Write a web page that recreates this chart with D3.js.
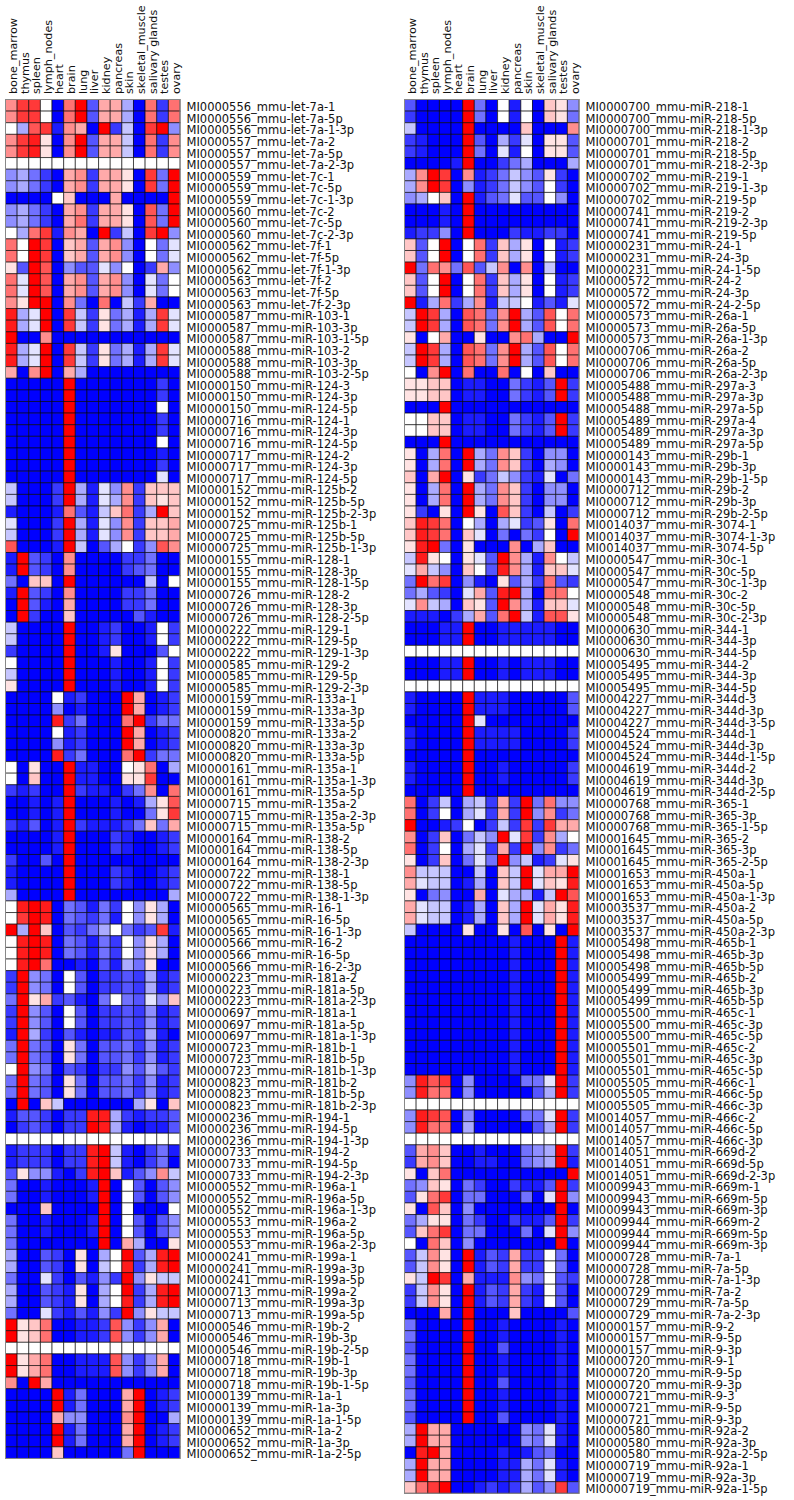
<!DOCTYPE html>
<html>
<head>
<meta charset="utf-8">
<script src="https://cdnjs.cloudflare.com/ajax/libs/d3/7.8.5/d3.min.js"></script>
<style>
  html, body { margin: 0; padding: 0; background: #fff; }
  svg { display: block; }
  text { font-family: "DejaVu Sans", sans-serif; fill: #111; }
</style>
</head>
<body>
<svg id="chart" width="794" height="1500"></svg>
<script>
var tissues = ["bone_marrow", "thymus", "spleen", "lymph_nodes", "heart", "brain", "lung", "liver",
  "kidney", "pancreas", "skin", "skeletal_muscle", "salivary glands", "testes", "ovary"];

// values run from -9 (full blue) through 0 (white) to 9 (full red)
var leftNames = [
  "MI0000556_mmu-let-7a-1", "MI0000556_mmu-let-7a-5p", "MI0000556_mmu-let-7a-1-3p",
  "MI0000557_mmu-let-7a-2", "MI0000557_mmu-let-7a-5p", "MI0000557_mmu-let-7a-2-3p",
  "MI0000559_mmu-let-7c-1", "MI0000559_mmu-let-7c-5p", "MI0000559_mmu-let-7c-1-3p",
  "MI0000560_mmu-let-7c-2", "MI0000560_mmu-let-7c-5p", "MI0000560_mmu-let-7c-2-3p",
  "MI0000562_mmu-let-7f-1", "MI0000562_mmu-let-7f-5p", "MI0000562_mmu-let-7f-1-3p",
  "MI0000563_mmu-let-7f-2", "MI0000563_mmu-let-7f-5p", "MI0000563_mmu-let-7f-2-3p",
  "MI0000587_mmu-miR-103-1", "MI0000587_mmu-miR-103-3p", "MI0000587_mmu-miR-103-1-5p",
  "MI0000588_mmu-miR-103-2", "MI0000588_mmu-miR-103-3p", "MI0000588_mmu-miR-103-2-5p",
  "MI0000150_mmu-miR-124-3", "MI0000150_mmu-miR-124-3p", "MI0000150_mmu-miR-124-5p",
  "MI0000716_mmu-miR-124-1", "MI0000716_mmu-miR-124-3p", "MI0000716_mmu-miR-124-5p",
  "MI0000717_mmu-miR-124-2", "MI0000717_mmu-miR-124-3p", "MI0000717_mmu-miR-124-5p",
  "MI0000152_mmu-miR-125b-2", "MI0000152_mmu-miR-125b-5p", "MI0000152_mmu-miR-125b-2-3p",
  "MI0000725_mmu-miR-125b-1", "MI0000725_mmu-miR-125b-5p", "MI0000725_mmu-miR-125b-1-3p",
  "MI0000155_mmu-miR-128-1", "MI0000155_mmu-miR-128-3p", "MI0000155_mmu-miR-128-1-5p",
  "MI0000726_mmu-miR-128-2", "MI0000726_mmu-miR-128-3p", "MI0000726_mmu-miR-128-2-5p",
  "MI0000222_mmu-miR-129-1", "MI0000222_mmu-miR-129-5p", "MI0000222_mmu-miR-129-1-3p",
  "MI0000585_mmu-miR-129-2", "MI0000585_mmu-miR-129-5p", "MI0000585_mmu-miR-129-2-3p",
  "MI0000159_mmu-miR-133a-1", "MI0000159_mmu-miR-133a-3p", "MI0000159_mmu-miR-133a-5p",
  "MI0000820_mmu-miR-133a-2", "MI0000820_mmu-miR-133a-3p", "MI0000820_mmu-miR-133a-5p",
  "MI0000161_mmu-miR-135a-1", "MI0000161_mmu-miR-135a-1-3p", "MI0000161_mmu-miR-135a-5p",
  "MI0000715_mmu-miR-135a-2", "MI0000715_mmu-miR-135a-2-3p", "MI0000715_mmu-miR-135a-5p",
  "MI0000164_mmu-miR-138-2", "MI0000164_mmu-miR-138-5p", "MI0000164_mmu-miR-138-2-3p",
  "MI0000722_mmu-miR-138-1", "MI0000722_mmu-miR-138-5p", "MI0000722_mmu-miR-138-1-3p",
  "MI0000565_mmu-miR-16-1", "MI0000565_mmu-miR-16-5p", "MI0000565_mmu-miR-16-1-3p",
  "MI0000566_mmu-miR-16-2", "MI0000566_mmu-miR-16-5p", "MI0000566_mmu-miR-16-2-3p",
  "MI0000223_mmu-miR-181a-2", "MI0000223_mmu-miR-181a-5p", "MI0000223_mmu-miR-181a-2-3p",
  "MI0000697_mmu-miR-181a-1", "MI0000697_mmu-miR-181a-5p", "MI0000697_mmu-miR-181a-1-3p",
  "MI0000723_mmu-miR-181b-1", "MI0000723_mmu-miR-181b-5p", "MI0000723_mmu-miR-181b-1-3p",
  "MI0000823_mmu-miR-181b-2", "MI0000823_mmu-miR-181b-5p", "MI0000823_mmu-miR-181b-2-3p",
  "MI0000236_mmu-miR-194-1", "MI0000236_mmu-miR-194-5p", "MI0000236_mmu-miR-194-1-3p",
  "MI0000733_mmu-miR-194-2", "MI0000733_mmu-miR-194-5p", "MI0000733_mmu-miR-194-2-3p",
  "MI0000552_mmu-miR-196a-1", "MI0000552_mmu-miR-196a-5p", "MI0000552_mmu-miR-196a-1-3p",
  "MI0000553_mmu-miR-196a-2", "MI0000553_mmu-miR-196a-5p", "MI0000553_mmu-miR-196a-2-3p",
  "MI0000241_mmu-miR-199a-1", "MI0000241_mmu-miR-199a-3p", "MI0000241_mmu-miR-199a-5p",
  "MI0000713_mmu-miR-199a-2", "MI0000713_mmu-miR-199a-3p", "MI0000713_mmu-miR-199a-5p",
  "MI0000546_mmu-miR-19b-2", "MI0000546_mmu-miR-19b-3p", "MI0000546_mmu-miR-19b-2-5p",
  "MI0000718_mmu-miR-19b-1", "MI0000718_mmu-miR-19b-3p", "MI0000718_mmu-miR-19b-1-5p",
  "MI0000139_mmu-miR-1a-1", "MI0000139_mmu-miR-1a-3p", "MI0000139_mmu-miR-1a-1-5p",
  "MI0000652_mmu-miR-1a-2", "MI0000652_mmu-miR-1a-3p", "MI0000652_mmu-miR-1a-2-5p"
];

var rightNames = [
  "MI0000700_mmu-miR-218-1", "MI0000700_mmu-miR-218-5p", "MI0000700_mmu-miR-218-1-3p",
  "MI0000701_mmu-miR-218-2", "MI0000701_mmu-miR-218-5p", "MI0000701_mmu-miR-218-2-3p",
  "MI0000702_mmu-miR-219-1", "MI0000702_mmu-miR-219-1-3p", "MI0000702_mmu-miR-219-5p",
  "MI0000741_mmu-miR-219-2", "MI0000741_mmu-miR-219-2-3p", "MI0000741_mmu-miR-219-5p",
  "MI0000231_mmu-miR-24-1", "MI0000231_mmu-miR-24-3p", "MI0000231_mmu-miR-24-1-5p",
  "MI0000572_mmu-miR-24-2", "MI0000572_mmu-miR-24-3p", "MI0000572_mmu-miR-24-2-5p",
  "MI0000573_mmu-miR-26a-1", "MI0000573_mmu-miR-26a-5p", "MI0000573_mmu-miR-26a-1-3p",
  "MI0000706_mmu-miR-26a-2", "MI0000706_mmu-miR-26a-5p", "MI0000706_mmu-miR-26a-2-3p",
  "MI0005488_mmu-miR-297a-3", "MI0005488_mmu-miR-297a-3p", "MI0005488_mmu-miR-297a-5p",
  "MI0005489_mmu-miR-297a-4", "MI0005489_mmu-miR-297a-3p", "MI0005489_mmu-miR-297a-5p",
  "MI0000143_mmu-miR-29b-1", "MI0000143_mmu-miR-29b-3p", "MI0000143_mmu-miR-29b-1-5p",
  "MI0000712_mmu-miR-29b-2", "MI0000712_mmu-miR-29b-3p", "MI0000712_mmu-miR-29b-2-5p",
  "MI0014037_mmu-miR-3074-1", "MI0014037_mmu-miR-3074-1-3p", "MI0014037_mmu-miR-3074-5p",
  "MI0000547_mmu-miR-30c-1", "MI0000547_mmu-miR-30c-5p", "MI0000547_mmu-miR-30c-1-3p",
  "MI0000548_mmu-miR-30c-2", "MI0000548_mmu-miR-30c-5p", "MI0000548_mmu-miR-30c-2-3p",
  "MI0000630_mmu-miR-344-1", "MI0000630_mmu-miR-344-3p", "MI0000630_mmu-miR-344-5p",
  "MI0005495_mmu-miR-344-2", "MI0005495_mmu-miR-344-3p", "MI0005495_mmu-miR-344-5p",
  "MI0004227_mmu-miR-344d-3", "MI0004227_mmu-miR-344d-3p", "MI0004227_mmu-miR-344d-3-5p",
  "MI0004524_mmu-miR-344d-1", "MI0004524_mmu-miR-344d-3p", "MI0004524_mmu-miR-344d-1-5p",
  "MI0004619_mmu-miR-344d-2", "MI0004619_mmu-miR-344d-3p", "MI0004619_mmu-miR-344d-2-5p",
  "MI0000768_mmu-miR-365-1", "MI0000768_mmu-miR-365-3p", "MI0000768_mmu-miR-365-1-5p",
  "MI0001645_mmu-miR-365-2", "MI0001645_mmu-miR-365-3p", "MI0001645_mmu-miR-365-2-5p",
  "MI0001653_mmu-miR-450a-1", "MI0001653_mmu-miR-450a-5p", "MI0001653_mmu-miR-450a-1-3p",
  "MI0003537_mmu-miR-450a-2", "MI0003537_mmu-miR-450a-5p", "MI0003537_mmu-miR-450a-2-3p",
  "MI0005498_mmu-miR-465b-1", "MI0005498_mmu-miR-465b-3p", "MI0005498_mmu-miR-465b-5p",
  "MI0005499_mmu-miR-465b-2", "MI0005499_mmu-miR-465b-3p", "MI0005499_mmu-miR-465b-5p",
  "MI0005500_mmu-miR-465c-1", "MI0005500_mmu-miR-465c-3p", "MI0005500_mmu-miR-465c-5p",
  "MI0005501_mmu-miR-465c-2", "MI0005501_mmu-miR-465c-3p", "MI0005501_mmu-miR-465c-5p",
  "MI0005505_mmu-miR-466c-1", "MI0005505_mmu-miR-466c-5p", "MI0005505_mmu-miR-466c-3p",
  "MI0014057_mmu-miR-466c-2", "MI0014057_mmu-miR-466c-5p", "MI0014057_mmu-miR-466c-3p",
  "MI0014051_mmu-miR-669d-2", "MI0014051_mmu-miR-669d-5p", "MI0014051_mmu-miR-669d-2-3p",
  "MI0009943_mmu-miR-669m-1", "MI0009943_mmu-miR-669m-5p", "MI0009943_mmu-miR-669m-3p",
  "MI0009944_mmu-miR-669m-2", "MI0009944_mmu-miR-669m-5p", "MI0009944_mmu-miR-669m-3p",
  "MI0000728_mmu-miR-7a-1", "MI0000728_mmu-miR-7a-5p", "MI0000728_mmu-miR-7a-1-3p",
  "MI0000729_mmu-miR-7a-2", "MI0000729_mmu-miR-7a-5p", "MI0000729_mmu-miR-7a-2-3p",
  "MI0000157_mmu-miR-9-2", "MI0000157_mmu-miR-9-5p", "MI0000157_mmu-miR-9-3p",
  "MI0000720_mmu-miR-9-1", "MI0000720_mmu-miR-9-5p", "MI0000720_mmu-miR-9-3p",
  "MI0000721_mmu-miR-9-3", "MI0000721_mmu-miR-9-5p", "MI0000721_mmu-miR-9-3p",
  "MI0000580_mmu-miR-92a-2", "MI0000580_mmu-miR-92a-3p", "MI0000580_mmu-miR-92a-2-5p",
  "MI0000719_mmu-miR-92a-1", "MI0000719_mmu-miR-92a-3p", "MI0000719_mmu-miR-92a-1-5p"
];

var leftValues = [
  [4,7,7,0,-9,5,9,-6,3,3,-3,-9,5,-7,5],
  [4,7,7,0,-9,5,9,-6,3,3,-3,-9,5,-7,5],
  [0,-3,6,7,-8,4,3,-9,9,-7,-2,-9,7,9,-4],
  [4,7,8,1,-9,4,9,-6,3,3,-2,-9,5,-7,4],
  [4,7,8,1,-9,4,9,-6,3,3,-2,-9,5,-7,4],
  [0,0,0,0,0,0,0,0,0,0,0,0,0,0,0],
  [-4,-3,-5,-7,-9,3,4,-7,3,3,1,-9,7,-5,9],
  [-4,-3,-5,-7,-9,3,4,-7,3,3,1,-9,7,-5,9],
  [-9,-9,-9,-9,0,2,-9,-9,-9,3,-9,-9,-9,-9,9],
  [-4,-3,-5,-7,-9,3,4,-7,3,3,1,-9,6,-5,9],
  [-4,-3,-5,-7,-9,3,5,-7,3,3,1,-9,6,-5,9],
  [0,-3,5,7,-8,4,3,-9,9,-7,-2,-9,7,9,-4],
  [5,0,9,7,-9,2,3,-6,3,4,-4,-9,0,-5,-1],
  [5,0,9,7,-9,2,3,-6,3,4,-4,-9,0,-5,-1],
  [1,-6,9,6,-9,-4,-6,-6,-1,-4,0,-9,-7,3,-4],
  [5,-1,9,6,-9,3,4,-6,3,4,-4,-9,-1,-5,0],
  [5,-1,9,6,-9,3,4,-6,3,4,-4,-9,-1,-5,0],
  [4,1,9,9,-9,4,-5,-9,5,-9,-2,-7,3,-9,-9],
  [8,-3,-1,9,-9,7,-2,-7,1,-5,-3,-8,-3,7,-1],
  [8,-3,-1,9,-9,7,-2,-7,1,-5,-3,-8,-3,7,-1],
  [9,-9,-9,4,-9,-9,-9,-9,-9,-9,-9,-9,-9,-9,-9],
  [8,-3,-1,9,-9,7,-2,-7,1,-5,-3,-8,-3,7,-1],
  [8,-3,-1,9,-9,7,-2,-7,1,-5,-3,-8,-3,7,-1],
  [3,-9,4,9,-9,3,-3,-9,-9,-9,-9,-9,-9,-9,-9],
  [-9,-9,-9,-9,-9,9,-9,-9,-9,-9,-9,-9,-9,-7,-9],
  [-9,-9,-9,-9,-9,9,-9,-9,-9,-9,-9,-9,-9,-7,-9],
  [-9,-9,-9,-9,-9,9,-9,-9,-9,-9,-9,-9,-9,0,-9],
  [-9,-9,-9,-9,-9,9,-9,-9,-9,-9,-9,-9,-9,-7,-9],
  [-9,-9,-9,-9,-9,9,-9,-9,-9,-9,-9,-9,-9,-7,-9],
  [-9,-9,-9,-9,-9,9,-9,-9,-9,-9,-9,-9,-9,0,-9],
  [-9,-9,-9,-9,-9,9,-9,-9,-9,-9,-9,-9,-9,-8,-9],
  [-9,-9,-9,-9,-9,9,-9,-9,-9,-9,-9,-9,-9,-7,-9],
  [-9,-9,-9,-9,-9,9,-9,-9,-9,-9,-9,-9,-9,-1,-9],
  [-2,-9,-9,-9,-7,9,-3,-8,-1,-4,4,-7,2,2,2],
  [-2,-9,-9,-9,-7,9,-3,-8,-1,-3,4,-7,2,1,2],
  [-8,-9,-9,-9,-8,5,-6,-8,-2,2,5,-7,-3,9,2],
  [-1,-9,-9,-9,-7,9,-3,-8,-1,-4,4,-7,2,2,3],
  [-2,-9,-9,-9,-7,9,-3,-8,-1,-4,4,-7,2,2,3],
  [6,-9,-9,-9,-8,9,-2,-9,-6,-3,0,-7,-4,6,4],
  [-8,9,-6,-7,-9,4,-9,-9,-9,-9,-7,-7,-5,-9,-9],
  [-8,9,-6,-7,-9,4,-9,-9,-9,-9,-7,-6,-5,-9,-9],
  [-5,-9,2,2,-9,9,-9,-9,-9,-9,-9,-9,-2,-9,0],
  [-8,9,-6,-7,-9,4,-9,-9,-9,-9,-7,-7,-5,-9,-9],
  [-9,9,-6,-8,-9,3,-9,-9,-9,-9,-7,-7,-5,-9,-9],
  [-9,9,-7,-9,-9,2,-9,-9,-9,-9,-9,-6,-8,-9,-9],
  [-2,-9,-9,-9,-9,9,-9,-9,-8,-7,-9,-9,-8,0,-7],
  [-2,-9,-9,-9,-9,9,-9,-9,-8,-7,-9,-9,-8,0,-7],
  [-7,-9,-9,-9,-9,9,-9,-9,-8,1,-9,-9,-9,-6,0],
  [0,-9,-9,-9,-9,9,-9,-9,-9,-8,-9,-9,-8,0,-7],
  [-2,-9,-9,-9,-9,9,-9,-9,-9,-8,-9,-9,-8,0,-7],
  [1,-9,-9,-9,-9,9,-9,-9,-9,-8,-9,-9,-8,0,-7],
  [-9,-9,-9,-9,0,-8,-7,-9,-9,-9,9,3,-9,-8,-7],
  [-9,-9,-9,-9,-4,-9,-8,-9,-9,-9,9,3,-9,-8,-7],
  [-9,-9,-9,-9,8,-7,-5,-9,-9,-9,5,9,-7,-5,-5],
  [-9,-9,-9,-9,0,-8,-7,-9,-9,-9,9,3,-9,-8,-7],
  [-9,-9,-9,-9,-4,-8,-7,-9,-9,-9,9,3,-9,-8,-7],
  [-9,-9,-9,-9,8,-7,-5,-9,-9,-9,5,9,-7,-5,-5],
  [0,-9,1,-9,-9,9,-8,-8,-9,-9,0,1,5,-9,-3],
  [0,-9,2,-9,-9,9,-8,-8,-9,-9,1,1,7,-9,-9],
  [-7,-8,-7,-9,-9,9,-7,-8,-8,-9,-7,-5,4,-9,5],
  [-9,-9,-8,-9,-8,9,-9,-9,-9,-8,-9,-8,-3,1,6],
  [-9,-9,-8,-9,-8,9,-9,-9,-9,-8,-9,-9,-5,1,7],
  [-7,-8,-6,-9,-8,9,-7,-8,-8,-8,-7,-5,2,-5,3],
  [-9,-9,-9,-9,-8,9,-9,-9,-9,-7,-8,-9,-9,-8,-7],
  [-9,-9,-9,-9,-8,9,-9,-9,-9,-7,-8,-9,-9,-8,-7],
  [-7,-9,-9,-6,-9,9,-9,-9,-9,-9,-9,-9,-9,-9,-9],
  [-8,-9,-9,-9,-9,9,-9,-9,-9,-7,-8,-9,-9,-8,-7],
  [-8,-9,-9,-9,-9,9,-9,-9,-9,-7,-8,-9,-9,-8,-7],
  [-3,-9,-9,-9,-9,9,-9,-9,-9,-9,-9,-9,-9,-9,-3],
  [0,8,9,8,-9,-5,-6,-8,-5,-7,0,-4,1,-3,-9],
  [0,7,9,8,-9,-5,-6,-7,-5,-8,0,-4,1,-3,-9],
  [9,-3,9,2,-9,-6,-7,-5,-3,0,-5,-7,-6,7,-8],
  [0,8,9,8,-9,-5,-6,-8,-5,-7,0,-4,1,-3,-9],
  [0,8,9,8,-9,-5,-6,-8,-5,-7,0,-4,1,-3,-9],
  [0,8,9,5,-9,-9,-8,-9,-6,-8,-3,-5,1,-9,-9],
  [-7,9,-4,-5,-9,0,-6,-9,-7,-7,-6,-7,-3,-8,-7],
  [-7,9,-4,-5,-9,0,-6,-9,-7,-7,-6,-7,-3,-8,-7],
  [-5,9,1,3,-7,-6,-8,-9,-5,0,-5,-6,-1,-4,2],
  [-7,9,-4,-6,-9,0,-6,-9,-7,-7,-6,-7,-4,-8,-7],
  [-7,9,-4,-6,-9,0,-6,-9,-7,-7,-6,-7,-4,-8,-7],
  [-8,9,-3,-7,-9,-6,-8,-9,-8,-8,-6,-7,-3,-8,-9],
  [-5,9,-5,-6,-9,1,-5,-9,-6,-6,-5,-7,-4,-8,-7],
  [-5,9,-5,-6,-9,1,-5,-9,-6,-6,-5,-7,-4,-8,-7],
  [0,9,-4,-5,-9,-6,-7,-9,-7,-7,-4,-6,-3,-6,-7],
  [-5,9,-5,-6,-9,1,-5,-9,-6,-6,-5,-7,-4,-8,-7],
  [-5,9,-5,-6,-9,1,-5,-9,-6,-6,-5,-7,-4,-8,-7],
  [-9,9,-9,2,-2,-9,-9,-9,-9,-9,-9,-3,1,-9,2],
  [-8,-6,-6,-7,-9,-7,-7,8,8,-3,-7,-8,-7,-7,-6],
  [-9,-7,-6,-7,-9,-7,-7,9,8,-3,-8,-9,-8,-8,-6],
  [0,0,0,0,0,0,0,0,0,0,0,0,0,0,0],
  [-8,-7,-7,-7,-9,-7,-7,8,9,-2,-8,-9,-7,-5,-8],
  [-8,-7,-7,-7,-9,-7,-7,8,9,-2,-8,-9,-7,-5,-9],
  [-6,1,-4,-4,-8,-9,-7,8,9,2,-8,-6,-4,4,-2],
  [-5,-9,-9,-8,-9,-9,-9,-8,9,-9,0,-6,-9,-6,-4],
  [-5,-9,-9,-8,-9,-9,-9,-8,9,-9,0,-6,-9,-6,-4],
  [-9,-9,-9,2,-9,-9,-9,-9,9,-9,0,-9,-9,-9,0],
  [-5,-9,-9,-8,-9,-9,-9,-8,9,-9,0,-6,-9,-6,-4],
  [-5,-9,-9,-8,-9,-9,-9,-8,9,-9,0,-6,-9,-6,-4],
  [-5,-9,-9,-9,-9,-9,-9,-9,9,-9,3,-3,-9,-9,1],
  [-3,-9,-9,-6,-7,-9,1,-9,-3,0,9,-6,-3,8,9],
  [-3,-9,-9,-6,-7,-9,1,-9,-2,0,8,-7,-3,8,9],
  [-5,-9,-9,-1,-7,-9,-6,-8,-4,-7,9,-4,1,-2,-2],
  [-3,-9,-9,-6,-7,-8,1,-9,-3,0,9,-7,-3,8,9],
  [-3,-9,-9,-6,-7,-8,1,-9,-3,0,8,-7,-3,8,9],
  [-5,-9,-9,-1,-7,-8,-6,-8,-4,-7,9,-4,1,-2,-2],
  [9,1,2,5,-9,-9,-8,-8,-7,6,-4,-7,-4,3,-9],
  [9,1,2,5,-9,-9,-8,-8,-7,6,-4,-7,-4,3,-9],
  [0,0,0,0,0,0,0,0,0,0,0,0,0,0,0],
  [9,1,3,5,-9,-9,-8,-8,-8,6,-4,-7,-4,3,-9],
  [9,1,3,5,-9,-9,-8,-8,-8,6,-4,-7,-4,3,-9],
  [4,-9,9,3,-9,-9,-9,-9,-9,-9,-9,-9,-9,-9,-9],
  [-9,-9,-9,-9,9,-8,-5,-9,-9,-9,3,9,-9,-8,-7],
  [-9,-9,-9,-9,9,-8,-5,-9,-9,-9,3,9,-9,-8,-7],
  [-9,-9,-9,-9,3,-4,-4,-9,-9,-9,4,9,-9,-9,-3],
  [-9,-9,-9,-9,9,-8,-5,-9,-9,-9,3,9,-9,-8,-7],
  [-9,-9,-9,-9,9,-8,-5,-9,-9,-9,3,9,-9,-8,-7],
  [-9,-9,-9,-9,2,-9,-9,-9,-9,-9,-5,9,-9,-9,-9]
];

var rightValues = [
  [-6,-9,-9,-9,-9,9,-5,-9,0,-8,0,-9,2,1,-4],
  [-7,-9,-9,-9,-9,9,-5,-9,0,-8,0,-9,2,1,-5],
  [-2,-9,-9,-9,-9,9,-9,-9,-9,-9,2,-9,-9,-9,4],
  [-7,-8,-9,-9,-9,9,-6,-9,-3,-7,-1,-9,1,1,-6],
  [-7,-8,-9,-9,-9,9,-5,-9,-1,-8,0,-9,1,1,-6],
  [-9,-9,-9,-9,-8,9,-9,-9,-7,-5,-3,-9,-9,-9,-3],
  [-3,4,9,7,-9,4,-8,-7,-5,-2,-4,-6,1,-7,-9],
  [-3,4,9,7,-9,-4,-8,-7,-5,-2,-4,-6,0,-7,-9],
  [-4,-3,0,2,-9,9,-8,-6,-5,-1,-6,-6,0,-4,-9],
  [-9,-9,-9,-8,-9,9,-9,-9,-9,-9,-9,-9,-9,-9,-9],
  [-9,-9,-9,-8,-9,9,-9,-9,-9,-9,-9,-9,-9,-9,-9],
  [-8,-7,-7,-4,-9,9,-9,-9,-9,-7,-8,-8,-7,-7,-9],
  [2,-6,0,9,-9,0,5,-7,2,-3,1,-9,0,-8,-7],
  [2,-6,0,9,-9,0,5,-7,2,-3,1,-9,0,-8,-7],
  [9,-5,5,4,-5,6,-6,-2,4,-9,4,-9,-2,-9,-9],
  [2,-6,0,9,-9,0,5,-7,2,-3,1,-9,0,-8,-7],
  [2,-6,0,9,-9,0,5,-7,2,-3,1,-9,0,-8,-7],
  [9,-8,-3,5,-7,-3,4,-8,-2,-2,0,-8,-6,-8,-1],
  [-2,9,7,-3,-9,6,5,-5,4,9,-3,-6,6,0,5],
  [-2,9,7,-3,-9,6,5,-5,4,9,-3,-6,6,0,5],
  [1,-9,0,3,-9,-9,1,-9,-9,4,5,-3,-9,-9,9],
  [-2,9,7,-3,-9,6,5,-5,4,9,-3,-6,6,0,5],
  [-2,9,7,-3,-9,6,5,-5,4,9,-3,-6,6,0,5],
  [0,-9,4,9,-9,5,-9,-9,5,-9,0,-9,2,-9,-9],
  [1,1,2,2,-9,-8,-8,-9,-9,-5,-7,-8,-6,9,-7],
  [1,1,2,2,-9,-8,-8,-9,-9,-5,-7,-8,-6,9,-7],
  [-9,-9,-9,9,-9,-9,-9,-9,-9,-9,-9,-9,-9,-9,-9],
  [0,0,2,2,-9,-8,-8,-9,-9,-5,-7,-8,-6,9,-7],
  [0,0,2,2,-9,-8,-8,-9,-9,-5,-7,-8,-6,9,-7],
  [-9,-9,-9,9,-9,-9,-9,-9,-9,-9,-9,-9,-9,-9,-9],
  [1,-9,-3,5,-9,9,-3,-5,4,2,-7,-9,-4,-4,-9],
  [1,-9,-3,5,-9,9,-3,-5,4,2,-7,-9,-3,-4,-9],
  [2,-9,3,9,-9,1,-7,-5,-2,-4,-7,-8,-1,-9,-5],
  [1,-9,-3,5,-9,9,-3,-5,4,2,-7,-9,-4,-4,-9],
  [1,-9,-3,5,-9,9,-3,-5,4,2,-7,-9,-4,-4,-9],
  [1,-7,-9,1,-9,9,1,-9,6,2,-7,-9,-2,-9,-7],
  [2,8,7,5,-9,0,-3,-9,-3,-1,-7,-6,1,-9,5],
  [2,8,7,5,-9,2,-1,-9,-5,-9,-5,-7,0,-9,9],
  [1,8,9,-5,-9,1,-9,-9,-9,4,-9,-3,2,-9,-9],
  [-2,8,1,0,-9,1,-1,-6,9,4,-3,-8,4,0,-2],
  [-1,3,-2,-4,-9,2,0,-6,8,4,-3,-8,2,2,-1],
  [-5,9,5,7,-9,-4,-8,-9,1,-6,-3,-7,5,-6,-7],
  [-5,-3,-6,-7,-9,-1,3,-6,8,9,-3,-9,5,5,0],
  [-1,4,-2,-3,-9,2,1,-6,9,4,-3,-8,2,2,-1],
  [-8,-8,-8,-9,-7,-3,3,-6,5,9,-2,-8,6,6,1],
  [-9,-9,-9,-8,-8,9,-9,-9,-8,-8,-8,-8,-8,-9,-9],
  [-9,-9,-9,-8,-8,9,-9,-9,-8,-8,-8,-8,-8,-9,-9],
  [0,0,0,0,0,0,0,0,0,0,0,0,0,0,0],
  [-9,-9,-9,-8,-8,9,-9,-9,-8,-9,-8,-8,-8,-9,-9],
  [-9,-9,-9,-8,-8,9,-9,-9,-8,-9,-8,-8,-8,-9,-9],
  [0,0,0,0,0,0,0,0,0,0,0,0,0,0,0],
  [-8,-9,-9,-9,-9,9,-8,-8,-8,-9,-9,-9,-9,-9,-6],
  [-8,-9,-9,-9,-9,9,-8,-8,-8,-9,-9,-9,-9,-9,-6],
  [-9,-9,-9,-9,-9,9,-1,-9,-9,-9,-9,-9,-9,-9,-9],
  [-8,-9,-9,-9,-9,9,-8,-8,-8,-8,-9,-9,-9,-9,-7],
  [-8,-9,-9,-9,-9,9,-8,-8,-8,-8,-9,-9,-9,-9,-7],
  [-9,-9,-9,-9,-9,9,-9,-9,-9,-9,-9,-9,-9,-9,-9],
  [-8,-9,-9,-9,-9,9,-9,-9,-8,-9,-9,-9,-9,-9,-7],
  [-8,-9,-9,-9,-9,9,-9,-9,-8,-9,-9,-9,-9,-9,-7],
  [-9,-9,-9,-9,-9,9,-9,-9,-9,-9,-9,-9,-9,-9,-9],
  [5,-9,-7,-2,-9,-3,-2,-7,3,-7,9,-5,5,-4,-4],
  [5,-9,-7,0,-9,-3,-1,-7,3,-7,9,-4,4,-7,-5],
  [9,-9,-9,-8,-7,0,-9,-7,-2,-7,7,-7,7,3,3],
  [4,-9,-7,2,-9,-5,-2,-4,9,-1,7,-7,4,-3,0],
  [5,-9,-7,0,-9,-3,-1,-7,3,-7,9,-4,4,-7,-5],
  [1,-9,-7,2,-9,-5,-1,-5,9,-4,-2,-8,-7,-1,1],
  [4,-2,-2,-2,-9,-9,-2,-9,2,-2,9,-1,3,3,9],
  [3,-1,-2,-2,-9,-8,-3,-9,2,-2,9,-1,2,1,8],
  [1,-9,-5,-4,-9,-9,3,-9,-1,-3,-3,-8,-2,9,6],
  [3,-1,-2,-2,-9,-8,-3,-9,2,-3,9,-1,3,1,8],
  [3,-1,-2,-2,-9,-8,-3,-9,2,-3,9,-1,3,1,8],
  [-2,-9,-9,-9,-9,1,-9,-9,1,-9,6,-9,1,-9,9],
  [-9,-9,-9,-9,-9,-9,-9,-9,-9,-8,-9,-9,-9,9,-8],
  [-9,-9,-9,-9,-9,-9,-9,-9,-9,-8,-9,-9,-9,9,-8],
  [-9,-9,-9,-9,-9,-9,-9,-9,-9,-8,-9,-9,-9,9,-8],
  [-9,-9,-9,-9,-9,-9,-9,-9,-9,-8,-9,-9,-9,9,-8],
  [-9,-9,-9,-9,-9,-9,-9,-9,-9,-8,-9,-9,-9,9,-8],
  [-9,-9,-9,-9,-9,-9,-9,-9,-9,-8,-9,-9,-9,9,-8],
  [-9,-9,-9,-9,-9,-9,-9,-9,-9,-8,-9,-9,-9,9,-8],
  [-9,-9,-9,-9,-9,-9,-9,-9,-9,-8,-9,-9,-9,9,-8],
  [-9,-9,-9,-9,-9,-9,-9,-9,-9,-8,-9,-9,-9,9,-8],
  [-9,-9,-9,-9,-9,-9,-9,-9,-9,-8,-9,-9,-9,9,-8],
  [-9,-9,-9,-9,-9,-9,-9,-9,-9,-8,-9,-9,-9,9,-8],
  [-9,-9,-9,-9,-9,-9,-9,-9,-9,-8,-9,-9,-9,9,-8],
  [-4,8,6,7,-9,-4,-9,-9,-9,-9,-5,-5,-1,9,-7],
  [-4,8,5,5,-9,-4,-9,-9,-9,-9,-9,-6,-3,9,-7],
  [0,0,0,0,0,0,0,0,0,0,0,0,0,0,0],
  [-4,8,7,6,-9,-4,-9,-9,-9,-9,-5,-5,-1,9,-7],
  [-4,8,5,5,-9,-3,-9,-9,-9,-9,-9,-6,-3,9,-7],
  [0,0,0,0,0,0,0,0,0,0,0,0,0,0,0],
  [-6,3,4,2,-9,-9,-8,-9,-9,-9,-5,-4,-3,9,-7],
  [-7,3,4,2,-9,-9,-8,-8,-9,-9,-5,-4,-3,9,-8],
  [1,-9,2,5,-9,-9,-9,-9,-9,-9,-9,-9,-9,-9,9],
  [-5,-4,2,1,-9,-5,-7,-9,-9,-7,-8,-8,-6,9,-7],
  [-6,1,5,7,-9,-5,-5,-9,-9,-9,-5,-9,-1,9,-4],
  [1,-9,6,2,-9,-4,-9,-9,-9,-9,-9,-9,-9,9,-9],
  [-5,-3,1,1,-9,-5,-7,-9,-9,-7,-8,-8,-6,9,-7],
  [-6,2,5,7,-9,-5,-5,-9,-9,-9,-5,-9,-1,9,-4],
  [0,-9,5,2,-9,-4,-9,-9,-9,-9,-9,-9,-9,9,-9],
  [-6,-2,4,1,-9,9,-8,-6,-7,3,-7,-7,0,-5,-9],
  [-6,-2,4,1,-9,9,-8,-6,-7,3,-7,-7,0,-5,-9],
  [1,-2,9,7,-9,3,-8,-8,-8,4,-4,-5,0,-6,-7],
  [-7,-2,4,1,-9,9,-8,-6,-7,3,-7,-8,0,-6,-9],
  [-7,-2,4,1,-9,9,-8,-6,-7,3,-7,-8,0,-6,-9],
  [-9,-9,-9,3,-9,9,-9,-9,-9,2,-9,-9,-9,-9,-6],
  [-5,-9,-9,-9,-9,9,-9,-9,-8,-9,-9,-9,-9,-8,-9],
  [-5,-9,-9,-9,-9,9,-9,-9,-8,-9,-9,-9,-9,-8,-9],
  [-6,-9,-9,-9,-9,9,-9,-9,-6,-9,-9,-9,-9,-8,-9],
  [-5,-9,-9,-9,-9,9,-9,-9,-8,-9,-9,-9,-9,-8,-9],
  [-5,-9,-9,-9,-9,9,-9,-9,-8,-9,-9,-9,-9,-8,-9],
  [-6,-9,-9,-9,-9,9,-9,-9,-6,-9,-9,-9,-9,-8,-9],
  [-5,-9,-9,-9,-9,9,-9,-9,-8,-9,-9,-9,-9,-8,-9],
  [-5,-9,-9,-9,-9,9,-9,-9,-8,-9,-9,-9,-9,-8,-9],
  [-6,-9,-9,-9,-9,9,-9,-9,-6,-9,-9,-9,-9,-8,-9],
  [-3,9,3,3,-9,-9,-9,-9,-9,-9,-4,-5,-1,-8,-9],
  [-3,9,3,3,-9,-9,-9,-9,-9,-9,-4,-5,-1,-8,-9],
  [-9,8,9,3,-9,-9,-9,-9,-8,-9,-8,-6,-5,-9,-9],
  [-3,9,3,3,-9,-9,-9,-9,-8,-8,-3,-5,-1,-8,-9],
  [-3,9,3,3,-9,-9,-9,-9,-8,-8,-3,-5,-1,-8,-9],
  [2,5,7,9,-9,-9,-8,-7,-8,-7,-3,-6,-4,7,-6]
];

var color = d3.scaleLinear()
  .domain([-9, 0, 9])
  .range(["#0000ff", "#ffffff", "#ff0000"]);

var svg = d3.select("#chart");

var colWidth = 11.635, rowHeight = 11.615, gridTop = 99.5;

function heatmap(left, names, values) {
  var width = colWidth * tissues.length,
    height = rowHeight * names.length;

  var x = d3.scaleBand().domain(d3.range(tissues.length)).range([left, left + width]);
  var y = d3.scaleBand().domain(d3.range(names.length)).range([gridTop, gridTop + height]);

  var cells = [];
  values.forEach(function(row, r) {
    row.forEach(function(v, c) { cells.push({r: r, c: c, v: v}); });
  });

  svg.append("g").selectAll("rect")
    .data(cells)
    .enter().append("rect")
    .attr("x", d => x(d.c))
    .attr("y", d => y(d.r))
    .attr("width", x.bandwidth())
    .attr("height", y.bandwidth())
    .attr("fill", d => color(d.v))
    .attr("stroke", "#000")
    .attr("stroke-opacity", 0.6)
    .attr("stroke-width", 1);

  svg.append("rect")
    .attr("x", left).attr("y", gridTop)
    .attr("width", width).attr("height", height)
    .attr("fill", "none")
    .attr("stroke", "#888");

  // tissue names on top, turned to read bottom to top
  var xAxis = d3.axisTop(x).tickSize(0).tickFormat(i => tissues[i]);
  var gx = svg.append("g")
    .attr("transform", "translate(0," + gridTop + ")")
    .call(xAxis);
  gx.select(".domain").remove();
  gx.selectAll("text")
    .attr("font-family", null)
    .attr("font-size", 11.2)
    .attr("text-anchor", "start")
    .attr("transform", "rotate(-90)")
    .attr("x", 5.5)
    .attr("y", 0)
    .attr("dy", "0.5em");

  // miRNA names to the right
  var yAxis = d3.axisRight(y).tickSize(0).tickFormat(i => names[i]);
  var gy = svg.append("g")
    .attr("transform", "translate(" + (left + width + 6.5) + ",0)")
    .call(yAxis);
  gy.select(".domain").remove();
  gy.selectAll("text")
    .attr("font-family", null)
    .attr("font-size", 11.5)
    .attr("x", 0)
    .attr("dy", "0.5em");
}

heatmap(5.5, leftNames, leftValues);
heatmap(404.5, rightNames, rightValues);
</script>
</body>
</html>
